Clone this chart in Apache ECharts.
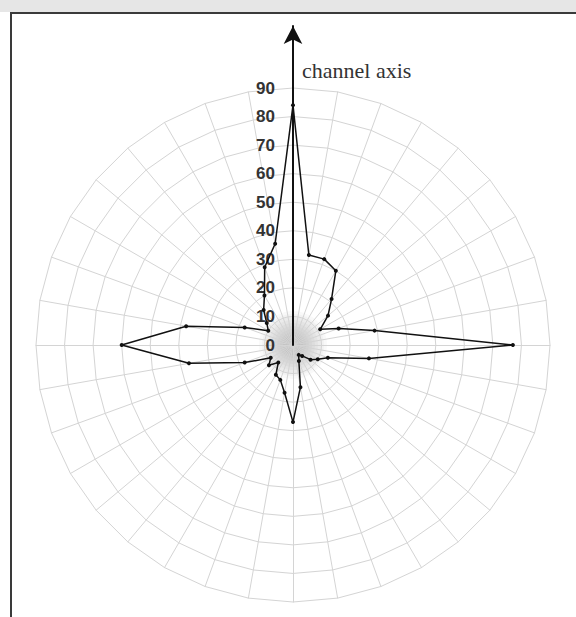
<!DOCTYPE html>
<html><head><meta charset="utf-8">
<script src="https://cdn.jsdelivr.net/npm/echarts@6/dist/echarts.min.js"></script>
<style>
html,body{margin:0;padding:0;background:#fff;overflow:hidden;}
#band{position:absolute;left:0;top:0;width:576px;height:12px;background:#e6e6e6;}
#frame{position:absolute;left:10px;top:12px;width:600px;height:620px;border-top:2px solid #3a3a3a;border-left:2px solid #3a3a3a;}
#chart{position:absolute;left:0;top:0;width:576px;height:617px;}
</style></head><body>
<div id="band"></div><div id="frame"></div><div id="chart"></div>
<script>
// channel directions (degrees clockwise from the channel axis)
const channels = ['0','10','20','30','40','50','60','70','80','90','100','110','120','130','140','150','160','170',
                  '180','190','200','210','220','230','240','250','260','270','280','290','300','310','320','330','340','350'];
// measured values per channel (clockwise order)
const values = [84,32,32,30,21,16,11,17,29,77,27,13,10,8,5,4,6,15,
                27,17,13,12,8,11,9,18,37,60,38,18,10,12,16,20,29,36];
const radialTicks = ['0','10','20','30','40','50','60','70','80','90'];
const axisTitle = 'channel axis';

const n = channels.length;
// ECharts radar places indicators counter-clockwise; reorder so the polygon runs clockwise
const order = channels.map((c, i) => (n - i) % n);

const CENTER = [293, 345];
const gridColor = '#d4d4d4';

const indicators = order.map((k, i) => {
  const ind = { name: channels[k], min: 0, max: 90 };
  if (i === 0) {
    ind.axisLabel = {
      show: true, color: '#333', fontSize: 17, fontWeight: 'bold',
      fontFamily: 'Liberation Sans', margin: 18,
      formatter: (v) => radialTicks[Math.round(v / 10)] || ''
    };
  }
  return ind;
});

// soft central glow, built as stacked translucent discs
const glowRadii = [34, 31, 28, 25, 22, 19, 16, 13, 10, 7, 5, 3];
const glowAlpha = [0.05, 0.06, 0.06, 0.07, 0.07, 0.07, 0.07, 0.08, 0.1, 0.15, 0.3, 0.6];
const glow = glowRadii.map((r, i) => ({
  type: 'circle', z: 0, silent: true,
  shape: { cx: CENTER[0], cy: CENTER[1], r: r },
  style: { fill: 'rgba(140,140,140,' + glowAlpha[i] + ')' }
}));

const chart = echarts.init(document.getElementById('chart'), null, { renderer: 'svg' });
chart.setOption({
  animation: false,
  backgroundColor: 'transparent',
  title: {
    text: axisTitle, left: 297, top: 54,
    textStyle: { fontFamily: 'Liberation Serif', fontSize: 22, fontWeight: 'normal', color: '#333' }
  },
  graphic: glow,
  radar: [{
    center: CENTER, radius: 257, startAngle: 90, shape: 'polygon', splitNumber: 9,
    indicator: indicators,
    axisName: { show: false },
    axisLine: { show: true, lineStyle: { color: gridColor, width: 1 } },
    axisTick: { show: false },
    axisLabel: { show: false },
    splitLine: { show: true, lineStyle: { color: gridColor, width: 1 } },
    splitArea: { show: false }
  }, {
    center: CENTER, radius: 319, startAngle: 90, shape: 'circle', splitNumber: 1,
    indicator: [{ name: '', min: 0, max: 1 }],
    axisName: { show: false },
    axisLine: { show: true, symbol: ['none', 'arrow'], symbolSize: [14, 18],
      lineStyle: { color: '#111', width: 2 } },
    axisTick: { show: false },
    axisLabel: { show: false },
    splitLine: { show: false },
    splitArea: { show: false }
  }],
  series: [{
    type: 'radar', radarIndex: 0, z: 5,
    symbol: 'circle', symbolSize: 4,
    lineStyle: { color: '#111', width: 1.5 },
    itemStyle: { color: '#111' },
    data: [{ value: order.map(k => values[k]), name: 'channels' }]
  }]
});
</script>
</body></html>
